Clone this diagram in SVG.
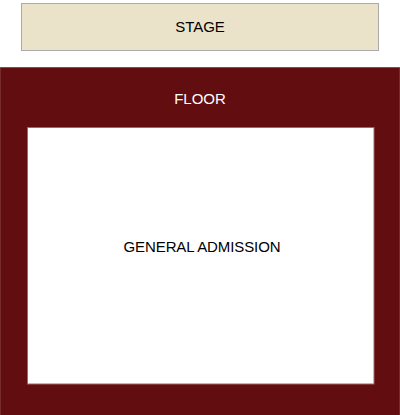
<svg xmlns="http://www.w3.org/2000/svg" width="400" height="415" viewBox="0 0 400 415">
<style>
text{font-family:"Liberation Sans",Arial,sans-serif;font-size:15px;text-anchor:middle;dominant-baseline:central}
</style>
<rect width="400" height="415" fill="#ffffff"/>
<g id="stage">
<rect x="21.5" y="3.5" width="357" height="47" fill="#ebe3c9" stroke="#aaaaaa" stroke-width="1"/>
<text x="200" y="26" fill="#000000">STAGE</text>
</g>
<g id="floor">
<rect x="0" y="67.5" width="400" height="348" fill="#620d10" stroke="#8a4a4c" stroke-width="1"/>
<text x="200" y="98" fill="#ffffff">FLOOR</text>
</g>
<g id="general-admission">
<rect x="27.5" y="127.5" width="346.5" height="256.5" fill="#ffffff" stroke="#a06668" stroke-width="1"/>
<text x="202" y="246" fill="#000000" letter-spacing="-0.1">GENERAL ADMISSION</text>
</g>
<g id="connectors"/>
</svg>
